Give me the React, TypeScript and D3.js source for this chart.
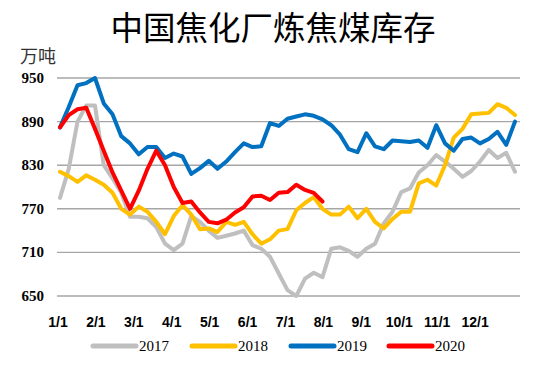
import React from "react";
import * as d3 from "d3";

const title = "中国焦化厂炼焦煤库存";
const unit = "万吨";
const yTicks = [650, 710, 770, 830, 890, 950];
const monthLabels = ["1/1", "2/1", "3/1", "4/1", "5/1", "6/1", "7/1", "8/1", "9/1", "10/1", "11/1", "12/1"];
const seriesNames = ["2017", "2018", "2019", "2020"];
const seriesColors = ["#BFBFBF", "#FFC000", "#0070C0", "#FF0000"];

const s2017 = [785, 825, 890, 912, 912, 830, 812, 792, 759, 759, 757, 745, 722, 713, 722, 760, 752, 740, 730, 733, 736, 740, 720, 715, 704, 681, 658, 650, 674, 682, 676, 715, 717, 712, 704, 715, 722, 750, 766, 793, 798, 820, 830, 844, 835, 825, 814, 822, 835, 851, 840, 847, 821];
const s2018 = [821, 815, 807, 816, 810, 803, 792, 770, 762, 773, 766, 752, 735, 760, 775, 762, 742, 743, 738, 752, 748, 752, 735, 722, 728, 740, 742, 768, 778, 786, 770, 762, 762, 773, 757, 770, 752, 743, 756, 766, 766, 805, 810, 802, 830, 868, 880, 900, 901, 902, 914, 909, 899];
const s2019 = [882, 910, 940, 943, 950, 915, 900, 870, 860, 845, 855, 855, 840, 846, 842, 818, 826, 836, 825, 835, 848, 860, 855, 856, 888, 884, 894, 897, 900, 898, 893, 885, 872, 852, 848, 874, 856, 852, 864, 863, 862, 864, 854, 885, 860, 850, 866, 868, 860, 866, 876, 858, 890];
const s2020 = [882, 899, 907, 909, 880, 850, 820, 795, 770, 795, 825, 850, 830, 800, 778, 780, 765, 752, 750, 755, 765, 772, 787, 788, 782, 792, 793, 803, 796, 792, 780];

const allSeries = [s2017, s2018, s2019, s2020];

export default function App() {
  const W = 550, H = 383;
  const x = d3.scaleLinear().domain([0, 52]).range([60, 515]);
  const y = d3.scaleLinear().domain([650, 950]).range([296, 78]);
  const weeksPerMonth = 52 / 12;
  const line = d3.line<number>().x((_, i) => x(i)).y((d) => y(d));
  const legendX = [93, 192, 291, 389];

  return (
    <svg width={W} height={H} style={{ position: "absolute", left: 0, top: 0, background: "#fff" }}>
      <rect x={0} y={0} width={W} height={H} fill="#fff" />
      <text x={273} y={40} textAnchor="middle" fontFamily="'Noto Sans CJK SC', sans-serif" fontSize={32.5} fill="#000">
        {title}
      </text>
      <text x={20} y={63} fontFamily="'Noto Sans CJK SC', sans-serif" fontSize={18} fill="#333">
        {unit}
      </text>
      {yTicks.map((t) => (
        <g key={t}>
          <line x1={57} x2={520} y1={y(t)} y2={y(t)} stroke="#A6A6A6" strokeWidth={1.4} />
          <text x={44} y={y(t) + 5} textAnchor="end" fontFamily="'Liberation Serif', serif" fontWeight="bold" fontSize={15} fill="#000">
            {t}
          </text>
        </g>
      ))}
      {monthLabels.map((m, i) => (
        <text key={m} x={x(i * weeksPerMonth) - 2} y={327} textAnchor="middle" fontFamily="'Liberation Sans', sans-serif" fontWeight="bold" fontSize={14} fill="#000">
          {m}
        </text>
      ))}
      {allSeries.map((s, k) => (
        <path key={k} d={line(s) || ""} fill="none" stroke={seriesColors[k]} strokeWidth={4} strokeLinejoin="round" strokeLinecap="round" />
      ))}
      {seriesNames.map((n, k) => (
        <g key={n}>
          <line x1={legendX[k]} x2={legendX[k] + 43} y1={346} y2={346} stroke={seriesColors[k]} strokeWidth={5} strokeLinecap="round" />
          <text x={legendX[k] + 46} y={351} fontFamily="'Liberation Serif', serif" fontSize={15} fill="#000">
            {n}
          </text>
        </g>
      ))}
    </svg>
  );
}
